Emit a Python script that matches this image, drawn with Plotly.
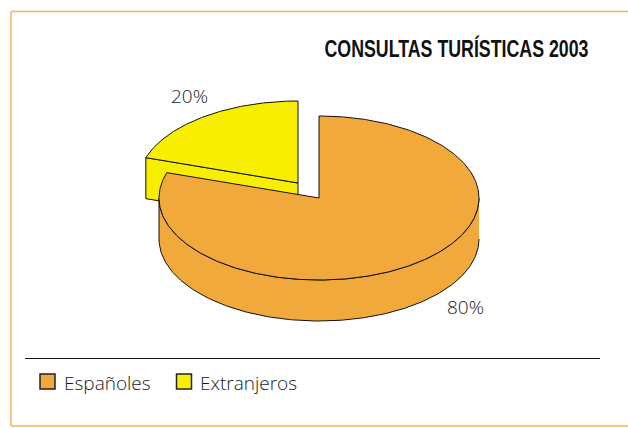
import numpy as np
import plotly.graph_objects as go

# Data
categories = ["Españoles", "Extranjeros"]
values = [80, 20]
colors = ["#F2A93B", "#F7EE00"]
title_text = "CONSULTAS TURÍSTICAS 2003"

# Pie geometry (pixel-like data units)
W, H = 628, 428
RX, RY, DEPTH = 160, 82, 41
CX_O, CY_O = 319, 198     # main slice centre
CX_Y, CY_Y = 298, 183     # exploded slice centre
total = sum(values)
sweep_y = 360 * values[1] / total
LABEL_FONT = dict(family="Open Sans", size=19, color="#1a1a1a", weight=300)


def arc(cx, cy, a0, a1, n=180):
    a = np.radians(np.linspace(a0, a1, n))   # degrees clockwise from 12 o'clock
    return cx + RX * np.sin(a), cy - RY * np.cos(a)


def poly(xs, ys, color, name):
    return go.Scatter(x=list(xs), y=list(ys), mode="lines", fill="toself", fillcolor=color,
                      line=dict(color="#111111", width=1), name=name,
                      hoverinfo="name", showlegend=False)


fig = go.Figure()

# Exploded slice: side wall then top
a_start = 360 - sweep_y
ax, ay = arc(CX_Y, CY_Y, a_start, 360)
sx = [ax[0], ax[0], CX_Y, CX_Y, ax[0]]
sy = [ay[0], ay[0] + DEPTH, CY_Y + DEPTH, CY_Y, ay[0]]
fig.add_trace(poly(sx, sy, colors[1], categories[1]))
fig.add_trace(poly(np.r_[CX_Y, ax, CX_Y], np.r_[CY_Y, ay, CY_Y], colors[1], categories[1]))

# Main slice: cylinder wall then top
wx, wy = arc(CX_O, CY_O, 90, 270)
fig.add_trace(poly(np.r_[wx, wx[::-1]], np.r_[wy + DEPTH, wy[::-1]], colors[0], categories[0]))
tx, ty = arc(CX_O, CY_O, 0, 360 - sweep_y, 360)
fig.add_trace(poly(np.r_[CX_O, tx, CX_O], np.r_[CY_O, ty, CY_O], colors[0], categories[0]))

# Legend
fig.add_trace(go.Scatter(
    x=[47.5, 184], y=[381.5, 381.5], mode="markers",
    marker=dict(symbol="square", size=15, color=colors, line=dict(color="#222222", width=1.5)),
    hoverinfo="skip", showlegend=False))
for lx, c in zip([61.5, 197.5], categories):
    fig.add_annotation(x=lx, y=383, text=c, showarrow=False, xanchor="left", font=LABEL_FONT)

# Percent labels
fig.add_annotation(x=189, y=96, text=f"{values[1]}%", showarrow=False, font=LABEL_FONT)
fig.add_annotation(x=465, y=307, text=f"{values[0]}%", showarrow=False, font=LABEL_FONT)
# Title
fig.add_annotation(x=591, y=48, text=f"<b>{title_text}</b>", showarrow=False, xanchor="right",
                   font=dict(family="Liberation Sans", size=24, color="#111111"))

border = dict(color="#F9B65C", width=1.5)
fig.update_layout(
    width=W, height=H, margin=dict(l=0, r=0, t=0, b=0),
    paper_bgcolor="white", plot_bgcolor="white",
    xaxis=dict(range=[0, W], visible=False, fixedrange=True),
    yaxis=dict(range=[H, 0], visible=False, fixedrange=True),
    shapes=[
        dict(type="line", xref="x", yref="y", x0=11, x1=628, y0=11.5, y1=11.5, line=border),
        dict(type="line", xref="x", yref="y", x0=11, x1=11, y0=11.5, y1=426, line=border),
        dict(type="line", xref="x", yref="y", x0=11, x1=628, y0=426, y1=426, line=border),
        dict(type="line", xref="x", yref="y", x0=25, x1=600, y0=358.5, y1=358.5, line=dict(color="#111111", width=1)),
    ],
)
# Condense the bold title glyphs about their right edge (no narrow font is installed)
post = """
document.body.style.margin='0';
function narrowTitle(){
  document.querySelectorAll('.annotation-text').forEach(function(t){
    if(t.textContent.indexOf('CONSULTAS')===0){
      t.removeAttribute('transform');
      var b=t.getBBox(), R=b.x+b.width, s=264/b.width;
      t.setAttribute('transform','translate('+R+',0) scale('+s+',1) translate('+(-R)+',0)');
    }
  });
}
narrowTitle(); setTimeout(narrowTitle,100);
"""
fig.write_html("out.html", config={"displayModeBar": False}, post_script=post)
